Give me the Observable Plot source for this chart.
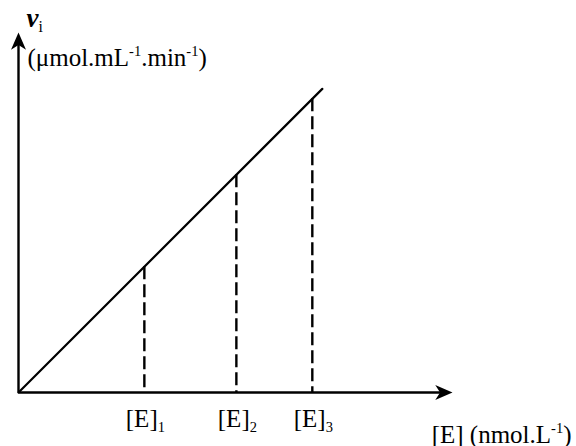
<!DOCTYPE html>
<html><head><meta charset="utf-8">
<script src="https://cdn.jsdelivr.net/npm/d3@7"></script>
<script src="https://cdn.jsdelivr.net/npm/@observablehq/plot@0.6"></script>
<style>html,body{margin:0;padding:0;background:#fff}</style>
</head><body><div id="chart"></div>
<script>
// ---- data ----
const enzymeLabels = ["[E]_{1}", "[E]_{2}", "[E]_{3}"];
const enzymeConc   = [2.9, 5.02, 6.77];
const initialRate  = [2.9, 5.02, 6.77];
const lineStart    = [0, 0];
const lineEnd      = [7.0, 7.0];
const xAxisMax     = 10;
const yAxisMax     = 8.3;
const yTitle       = "v_{i}";
const yUnit        = "(μmol.mL^{-1}.min^{-1})";
const xTitle       = "[E] (nmol.L^{-1})";

const serif = "Liberation Serif";

// barbed arrow head symbol, tip at origin pointing up
const arrowHead = {
  draw(ctx, size) {
    const r = Math.sqrt(size / Math.PI);
    const L = r * 2.3, w = r;
    ctx.moveTo(0, 0);
    ctx.lineTo(-w, L);
    ctx.lineTo(0, L * 0.72);
    ctx.lineTo(w, L);
    ctx.closePath();
  }
};

const points = enzymeConc.map((e, i) => ({E: e, v: initialRate[i], label: enzymeLabels[i]}));
const rateLine = [{E: lineStart[0], v: lineStart[1]}, {E: lineEnd[0], v: lineEnd[1]}];

const txt = {fontFamily: serif, fill: "#000", lineAnchor: "bottom"};

const chart = Plot.plot({
  width: 576, height: 446,
  marginLeft: 18, marginRight: 124, marginTop: 32, marginBottom: 54,
  x: {domain: [0, xAxisMax], axis: null},
  y: {domain: [0, yAxisMax], axis: null},
  style: {background: "#fff", fontFamily: serif, overflow: "visible", color: "#000"},
  marks: [
    // axes shafts
    Plot.link([0], {x1: 0, y1: 0, x2: xAxisMax - 0.25, y2: 0, stroke: "#000", strokeWidth: 2.4, strokeLinecap: "butt"}),
    Plot.link([0], {x1: 0, y1: 0, x2: 0, y2: yAxisMax - 0.25, stroke: "#000", strokeWidth: 2.4, strokeLinecap: "butt"}),
    // arrow heads
    Plot.dot([0], {x: xAxisMax, y: 0, symbol: arrowHead, r: 7.5, fill: "#000", stroke: "none", rotate: 90}),
    Plot.dot([0], {x: 0, y: yAxisMax, symbol: arrowHead, r: 7.5, fill: "#000", stroke: "none", rotate: 0}),
    // dashed drop lines
    Plot.ruleX(points, {x: "E", y1: "v", y2: 0, stroke: "#000", strokeWidth: 2.4, strokeDasharray: "13,5"}),
    // proportional line
    Plot.line(rateLine, {x: "E", y: "v", stroke: "#000", strokeWidth: 2.2}),
    // tick labels
    Plot.text(points, {...txt, x: "E", y: 0, text: "label", dy: 34, dx: 1, textAnchor: "middle", fontSize: 25}),
    // y title
    Plot.text([yTitle], {...txt, x: 0, y: yAxisMax, text: d => d, dx: 8, dy: -6, textAnchor: "start", fontSize: 27, fontWeight: "bold", fontStyle: "italic"}),
    Plot.text([yUnit], {...txt, x: 0, y: yAxisMax, text: d => d, dx: 9, dy: 33, textAnchor: "start", fontSize: 25}),
    // x title
    Plot.text([xTitle], {...txt, x: xAxisMax, y: 0, text: d => d, dx: 119, dy: 50, textAnchor: "end", fontSize: 25})
  ]
});

// turn _{..} and ^{..} into real sub/superscript tspans
d3.select(chart).selectAll("text").each(function () {
  const s = this.textContent;
  if (!/[_^]\{/.test(s)) return;
  const fs = parseFloat(this.closest("[font-size]")?.getAttribute("font-size")) || 25;
  const el = d3.select(this);
  el.text(null);
  const re = /([_^])\{([^}]*)\}/g;
  let last = 0, m, offset = 0;
  const plain = (t) => {
    if (!t) return;
    el.append("tspan").attr("dy", -offset).text(t);
    offset = 0;
  };
  while ((m = re.exec(s))) {
    plain(s.slice(last, m.index));
    const shift = m[1] === "_" ? fs * 0.22 : -fs * 0.38;
    el.append("tspan")
      .attr("dy", shift - offset)
      .attr("font-size", fs * 0.58)
      .attr("font-style", "normal")
      .attr("font-weight", "normal")
      .text(m[2]);
    offset = shift;
    last = re.lastIndex;
  }
  plain(s.slice(last));
});

document.getElementById("chart").appendChild(chart);
</script>
</body></html>
